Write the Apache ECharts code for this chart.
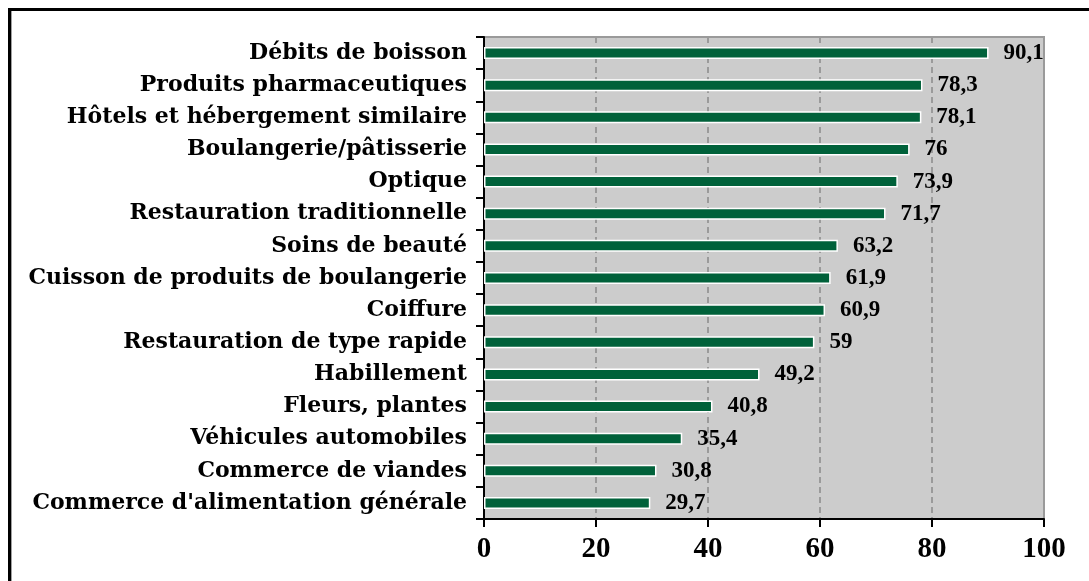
<!DOCTYPE html>
<html>
<head>
<meta charset="utf-8">
<script src="https://cdn.jsdelivr.net/npm/echarts@6/dist/echarts.min.js"></script>
<style>
  html, body { margin: 0; padding: 0; background: #ffffff; }
  #frame {
    position: absolute; left: 8px; top: 8px; width: 1200px; height: 700px;
    border-left: 3px solid #000; border-top: 3px solid #000;
    box-shadow: inset 1px 0 0 #a0a0a0;
  }
  #chart { position: absolute; left: 0; top: 0; width: 1089px; height: 581px; }
</style>
</head>
<body>
<div id="frame"></div>
<div id="chart"></div>
<script>
// Activités (top to bottom) and their values
const categories = [
  "Débits de boisson",
  "Produits pharmaceutiques",
  "Hôtels et hébergement similaire",
  "Boulangerie/pâtisserie",
  "Optique",
  "Restauration traditionnelle",
  "Soins de beauté",
  "Cuisson de produits de boulangerie",
  "Coiffure",
  "Restauration de type rapide",
  "Habillement",
  "Fleurs, plantes",
  "Véhicules automobiles",
  "Commerce de viandes",
  "Commerce d'alimentation générale"
];
const values = [90.1, 78.3, 78.1, 76, 73.9, 71.7, 63.2, 61.9, 60.9, 59, 49.2, 40.8, 35.4, 30.8, 29.7];
const xTicks = { min: 0, max: 100, interval: 20 };

const chart = echarts.init(document.getElementById('chart'), null, { renderer: 'canvas' });
chart.setOption({
  animation: false,
  backgroundColor: 'transparent',
  grid: {
    left: 484, right: 45, top: 37, bottom: 62,
    show: true, backgroundColor: '#cccccc',
    borderColor: '#9a9a9a', borderWidth: 2
  },
  xAxis: {
    type: 'value', min: xTicks.min, max: xTicks.max, interval: xTicks.interval,
    axisLine: { show: true, lineStyle: { color: '#000', width: 2 } },
    axisTick: { show: true, length: 8, lineStyle: { color: '#000', width: 2 } },
    axisLabel: {
      margin: 16, color: '#000', fontFamily: 'Liberation Serif',
      fontWeight: 'bold', fontSize: 29
    },
    splitLine: { show: true, lineStyle: { color: '#9a9a9a', width: 2, type: [6, 4] } }
  },
  yAxis: {
    type: 'category', data: categories, inverse: true,
    axisLine: { show: true, lineStyle: { color: '#000', width: 2 } },
    axisTick: { show: true, length: 8, lineStyle: { color: '#000', width: 2 } },
    axisLabel: {
      margin: 17, color: '#000', fontFamily: 'DejaVu Serif',
      fontWeight: 'bold', fontSize: 22
    },
    splitLine: { show: false }
  },
  series: [{
    type: 'bar',
    data: values,
    barWidth: 12,
    itemStyle: { color: '#00613a', borderColor: '#ffffff', borderWidth: 1.5 },
    label: {
      show: true, position: 'right', distance: 15,
      color: '#000', fontFamily: 'Liberation Serif', fontWeight: 'bold', fontSize: 23,
      formatter: p => String(p.value).replace('.', ',')
    }
  }]
});
</script>
</body>
</html>
